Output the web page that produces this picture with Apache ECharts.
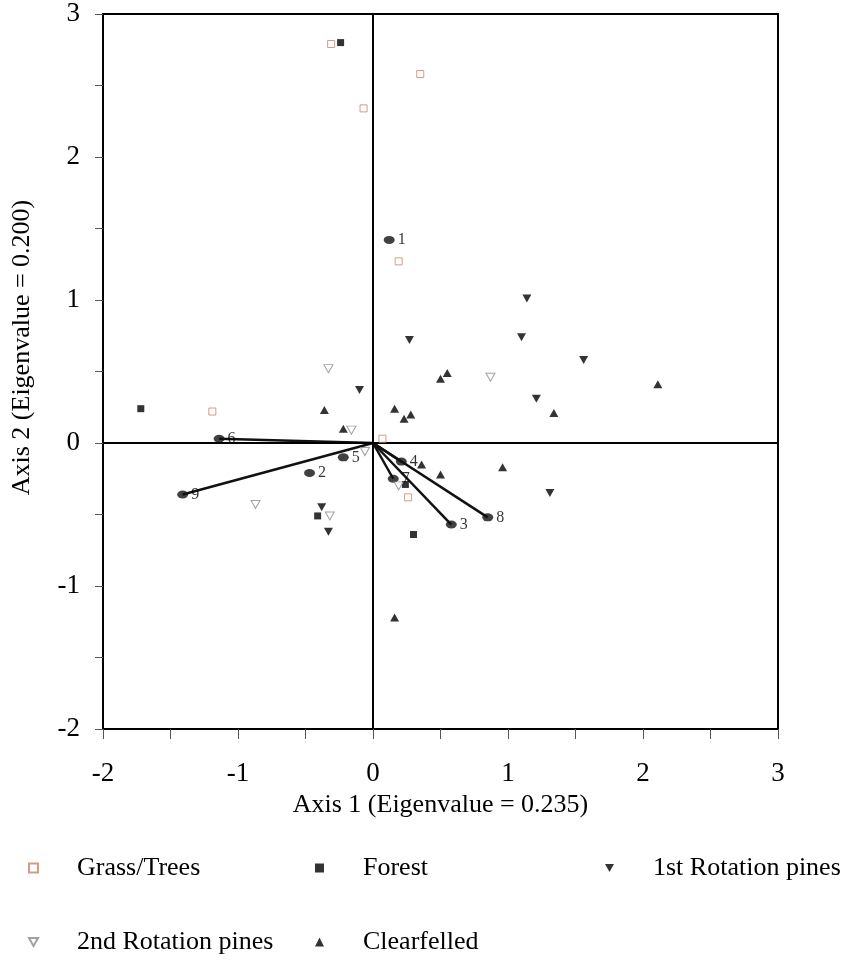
<!DOCTYPE html>
<html>
<head>
<meta charset="utf-8">
<script src="https://cdn.jsdelivr.net/npm/echarts@6/dist/echarts.min.js"></script>
<style>
  html, body { margin: 0; padding: 0; background: #fff; }
  #chart { width: 861px; height: 963px; }
</style>
</head>
<body>
<div id="chart"></div>
<script>
// Site scores on the first two ordination axes, by land use
const grassTrees = [[-0.31, 2.79], [0.35, 2.58], [-0.07, 2.34], [0.19, 1.27], [-1.19, 0.22], [0.07, 0.03], [0.26, -0.38]];
const forest = [[-0.24, 2.80], [-1.72, 0.24], [-0.41, -0.51], [0.24, -0.29], [0.30, -0.64]];
const firstRotation = [[1.14, 1.01], [0.27, 0.72], [1.10, 0.74], [1.56, 0.58], [1.21, 0.31], [-0.10, 0.37], [1.31, -0.35], [-0.38, -0.45], [-0.33, -0.62]];
const secondRotation = [[-0.33, 0.52], [-0.16, 0.09], [-0.06, -0.06], [-0.87, -0.43], [-0.32, -0.51], [0.87, 0.46], [0.19, -0.30]];
const clearfelled = [[-0.36, 0.23], [-0.22, 0.10], [0.16, 0.24], [0.23, 0.17], [0.28, 0.20], [0.50, 0.45], [0.55, 0.49], [1.34, 0.21], [2.11, 0.41], [0.36, -0.15], [0.50, -0.22], [0.96, -0.17], [0.16, -1.22]];

// Environmental variables (biplot scores)
const envNames = ['1', '2', '3', '4', '5', '6', '7', '8', '9'];
const envX = [0.12, -0.47, 0.58, 0.21, -0.22, -1.14, 0.15, 0.85, -1.41];
const envY = [1.42, -0.21, -0.57, -0.13, -0.10, 0.03, -0.25, -0.52, -0.36];
const envWithArrow = ['3', '4', '6', '7', '8', '9'];

const axisTicks = { xMin: -2, xMax: 3, yMin: -2, yMax: 3, step: 1 };

const serif = '"Liberation Serif", "Times New Roman", serif';
const downTri = 'path://M0,0 L10,0 L5,9 Z';

const envPoints = envNames.map((n, i) => ({ name: n, value: [envX[i], envY[i]] }));
const envLines = envNames
  .map((n, i) => ({ name: n, coords: [[0, 0], [envX[i], envY[i]]] }))
  .filter(d => envWithArrow.includes(d.name));

const legendBase = {
  orient: 'vertical', top: 855, height: 108, padding: 0, itemGap: 48,
  itemWidth: 9, itemHeight: 9,
  textStyle: { fontFamily: serif, fontSize: 26, lineHeight: 26, color: '#000', padding: [0, 0, 0, 34] }
};

const chart = echarts.init(document.getElementById('chart'), null, { renderer: 'canvas' });

chart.setOption({
  animation: false,
  backgroundColor: '#fff',
  grid: {
    left: 103, right: 83, top: 14, bottom: 234,
    show: true, borderColor: '#000', borderWidth: 2, backgroundColor: 'transparent'
  },
  xAxis: {
    type: 'value',
    min: axisTicks.xMin, max: axisTicks.xMax, interval: axisTicks.step,
    name: 'Axis 1 (Eigenvalue = 0.235)',
    nameLocation: 'middle', nameGap: 59,
    nameTextStyle: { fontFamily: serif, fontSize: 26, color: '#000' },
    axisLine: { show: true, onZero: false, lineStyle: { color: '#000', width: 2 } },
    axisTick: { show: true, inside: false, length: 10, lineStyle: { color: '#555', width: 1 } },
    minorTick: { show: true, splitNumber: 2, length: 10, lineStyle: { color: '#555', width: 1 } },
    axisLabel: { margin: 31, fontFamily: serif, fontSize: 27, color: '#000' },
    splitLine: { show: false }
  },
  yAxis: {
    type: 'value',
    min: axisTicks.yMin, max: axisTicks.yMax, interval: axisTicks.step,
    name: 'Axis 2 (Eigenvalue = 0.200)',
    nameLocation: 'middle', nameGap: 68, nameRotate: 90,
    nameTextStyle: { fontFamily: serif, fontSize: 26, color: '#000', padding: [0, 0, 0, 48] },
    axisLine: { show: true, onZero: false, lineStyle: { color: '#000', width: 2 } },
    axisTick: { show: true, inside: false, length: 8, lineStyle: { color: '#555', width: 1 } },
    minorTick: { show: true, splitNumber: 2, length: 8, lineStyle: { color: '#555', width: 1 } },
    axisLabel: { margin: 23, fontFamily: serif, fontSize: 27, color: '#000' },
    splitLine: { show: false }
  },
  legend: [
    Object.assign({ left: 28, data: ['Grass/Trees', '2nd Rotation pines'] }, legendBase),
    Object.assign({ left: 315, data: ['Forest', 'Clearfelled'] }, legendBase),
    Object.assign({ left: 605, data: ['1st Rotation pines'] }, legendBase)
  ],
  series: [
    {
      // Zero reference lines through the origin
      type: 'scatter', data: [], silent: true,
      markLine: {
        silent: true, symbol: 'none', animation: false,
        label: { show: false },
        lineStyle: { color: '#000', width: 2, type: 'solid' },
        data: [{ xAxis: 0 }, { yAxis: 0 }]
      }
    },
    {
      name: 'env-vectors', type: 'lines', coordinateSystem: 'cartesian2d',
      silent: true, z: 3,
      lineStyle: { color: '#111', width: 2.5, opacity: 1 },
      data: envLines
    },
    {
      name: 'env-points', type: 'scatter', z: 4,
      symbol: 'circle', symbolSize: [11, 8],
      itemStyle: { color: '#111' },
      label: { show: true, position: 'right', distance: 3, formatter: '{b}', fontFamily: serif, fontSize: 16, color: '#000' },
      data: envPoints
    },
    {
      name: 'Grass/Trees', type: 'scatter', z: 5,
      symbol: 'rect', symbolSize: 7,
      itemStyle: { color: '#fff', borderColor: '#d0806a', borderWidth: 1 },
      data: grassTrees
    },
    {
      name: 'Forest', type: 'scatter', z: 5,
      symbol: 'rect', symbolSize: 7,
      itemStyle: { color: '#000' },
      data: forest
    },
    {
      name: '1st Rotation pines', type: 'scatter', z: 5,
      symbol: downTri, symbolSize: [9, 8],
      itemStyle: { color: '#000' },
      data: firstRotation
    },
    {
      name: '2nd Rotation pines', type: 'scatter', z: 5,
      symbol: downTri, symbolSize: [9, 8],
      itemStyle: { color: '#fff', borderColor: '#8a8a8a', borderWidth: 1 },
      data: secondRotation
    },
    {
      name: 'Clearfelled', type: 'scatter', z: 5,
      symbol: 'triangle', symbolSize: [9, 8],
      itemStyle: { color: '#000' },
      data: clearfelled
    }
  ]
});
</script>
</body>
</html>
